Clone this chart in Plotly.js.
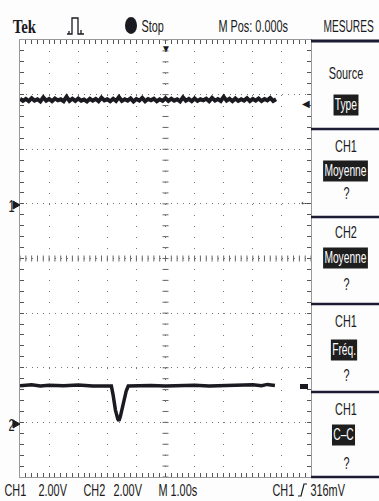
<!DOCTYPE html>
<html>
<head>
<meta charset="utf-8">
<script src="https://cdn.plot.ly/plotly-3.0.1.min.js"></script>
<style>
html,body{margin:0;padding:0;background:#fdfdfd;}
#chart{width:379px;height:501px;}
</style>
</head>
<body>
<div id="chart"></div>
<script>
// ---- Data ----
// time in seconds (M 1.00s/div, 10 divisions, trigger at centre)
const ch1Time = [-5.0,-4.9,-4.8,-4.7,-4.6,-4.5,-4.4,-4.3,-4.2,-4.1,
                 -4.0,-3.9,-3.8,-3.7,-3.6,-3.5,-3.4,-3.3,-3.2,-3.1,
                 -3.0,-2.9,-2.8,-2.7,-2.6,-2.5,-2.4,-2.3,-2.2,-2.1,
                 -2.0,-1.9,-1.8,-1.7,-1.6,-1.5,-1.4,-1.3,-1.2,-1.1,
                 -1.0,-0.9,-0.8,-0.7,-0.6,-0.5,-0.4,-0.3,-0.2,-0.1,
                 0.0,0.1,0.2,0.3,0.4,0.5,0.6,0.7,0.8,0.9,
                 1.0,1.1,1.2,1.3,1.4,1.5,1.6,1.7,1.8,1.9,
                 2.0,2.1,2.2,2.3,2.4,2.5,2.6,2.7,2.8,2.9,
                 3.0,3.1,3.2,3.3,3.4,3.5,3.6,3.7,3.8];
// CH1 volts (2.00 V/div), noisy level about 3.8 V
const ch1Volts = [3.85,3.77,3.84,3.76,3.87,3.78,3.83,3.75,3.90,3.78,
                  3.84,3.76,3.86,3.79,3.83,3.76,3.92,3.77,3.85,3.77,
                  3.86,3.78,3.82,3.75,3.85,3.78,3.84,3.76,3.89,3.79,
                  3.83,3.76,3.85,3.77,3.91,3.77,3.83,3.78,3.86,3.75,
                  3.84,3.78,3.88,3.76,3.84,3.79,3.85,3.76,3.83,3.77,
                  3.87,3.77,3.85,3.78,3.83,3.75,3.90,3.78,3.84,3.76,
                  3.86,3.77,3.83,3.79,3.85,3.76,3.88,3.78,3.84,3.77,
                  3.92,3.78,3.85,3.76,3.86,3.77,3.83,3.78,3.87,3.76,
                  3.84,3.78,3.86,3.77,3.84,3.79,3.88,3.77,3.83];
// CH2 time and volts (2.00 V/div): level about 1.33 V with a dip near -1.6 s
const ch2Time = [-5.0,-4.6,-4.3,-4.0,-3.5,-3.0,-2.5,-2.0,-1.86,-1.80,-1.72,-1.64,-1.60,
                 -1.55,-1.45,-1.35,-1.28,-1.0,-0.5,0.0,0.5,1.0,1.5,2.0,2.5,3.0,3.3,3.5,3.76];
const ch2Volts = [1.34,1.38,1.33,1.36,1.34,1.37,1.33,1.34,1.33,1.00,0.45,0.12,0.06,
                  0.22,0.70,1.15,1.33,1.34,1.35,1.33,1.34,1.36,1.33,1.35,1.37,1.38,1.34,1.39,1.35];

const ch1Ground = 1;   // divisions above centre
const ch2Ground = -3;  // divisions below centre
const voltsPerDiv = 2.0;

// ---- geometry helpers (pixel -> paper) ----
const L = 20, R = 311, T = 40, B = 477;
const px = x => (x - L) / (R - L);
const py = y => (B - y) / (B - T);

const font = "'Liberation Sans',Arial,sans-serif";
const ink = '#1a1a20';

const traces = [
  {x: ch1Time, y: ch1Volts.map(v => ch1Ground + v / voltsPerDiv), mode: 'lines',
   line: {color: ink, width: 4}, hoverinfo: 'skip'},
  {x: ch2Time, y: ch2Volts.map(v => ch2Ground + v / voltsPerDiv), mode: 'lines',
   line: {color: ink, width: 3.5}, hoverinfo: 'skip'}
];

const annotations = [];
const annScale = [];
function ann(text, x, y, o) {
  o = o || {};
  annotations.push(Object.assign({
    text: text, xref: 'paper', yref: 'paper', x: px(x), y: py(y),
    xanchor: o.xa || 'left', yanchor: 'middle', showarrow: false,
    font: {family: o.family || font, size: o.size || 17, color: o.color || ink}
  }, o.extra || {}));
  annScale.push(o.sx === undefined ? 0.64 : o.sx);
}
function inv(text, x, y) {
  ann(text, x, y, {xa: 'center', color: '#ffffff', size: 16,
    extra: {bgcolor: '#1e1e1e', borderpad: 1.5}});
}

// header
ann('<b>Tek</b>', 11, 26, {family: "'Liberation Serif','DejaVu Serif',serif", size: 19, sx: 0.78});
ann('Stop', 140, 26);
ann('M Pos: 0.000s', 217, 26);
ann('MESURES', 322, 26, {sx: 0.6});
// footer
ann('CH1', 3, 490);
ann('2.00V', 37, 490);
ann('CH2', 82, 490);
ann('2.00V', 112, 490);
ann('M 1.00s', 157, 490);
ann('CH1', 271, 490);
ann('316mV', 309, 490);
// menu
ann('Source', 346, 73, {xa: 'center'});
inv('Type', 346, 105);
ann('CH1', 346, 146, {xa: 'center'});
inv('Moyenne', 345, 171);
ann('?', 346, 193, {xa: 'center'});
ann('CH2', 346, 232, {xa: 'center'});
inv('Moyenne', 345, 258);
ann('?', 346, 284, {xa: 'center'});
ann('CH1', 346, 322, {xa: 'center'});
inv('Fréq.', 344, 350);
ann('?', 346, 375, {xa: 'center'});
ann('CH1', 346, 409, {xa: 'center'});
inv('C–C', 343, 435);
ann('?', 346, 463, {xa: 'center'});
// channel ground markers and level markers
ann('1', 7, 206, {size: 17});
ann('2', 7, 425, {size: 17});
ann('▼', 166, 48, {xa: 'center', size: 10, sx: 1});
ann('◀', 306, 103, {xa: 'center', size: 10, sx: 1});
ann('←', 305, 201, {xa: 'center', size: 12, sx: 1});

const shapes = [];
function seg(x0, y0, x1, y1, w, c) {
  shapes.push({type: 'line', xref: 'paper', yref: 'paper',
    x0: px(x0), y0: py(y0), x1: px(x1), y1: py(y1),
    line: {color: c || '#1b1b33', width: w || 2.5}});
}
// menu separators
seg(311, 41, 379, 41, 3);
seg(311, 129, 379, 129, 2.5);
seg(311, 217, 379, 217, 2.5);
seg(311, 304, 379, 304, 2.5);
seg(311, 392, 379, 392, 2.5);
seg(311, 477, 379, 477, 2.5);
// Stop dot
shapes.push({type: 'circle', xref: 'paper', yref: 'paper',
  x0: px(125), x1: px(137), y0: py(34), y1: py(17),
  fillcolor: ink, line: {width: 0}});
// acquisition icon
shapes.push({type: 'path', xref: 'paper', yref: 'paper',
  path: 'M' + px(67) + ',' + py(34) + ' H' + px(72) + ' V' + py(18) + ' H' + px(78) + ' V' + py(34) + ' H' + px(84) +
        ' M' + px(81) + ',' + py(34) + ' V' + py(30) + ' M' + px(69) + ',' + py(34) + ' V' + py(31),
  line: {color: ink, width: 1.3}});
// trigger slope symbol in footer
shapes.push({type: 'path', xref: 'paper', yref: 'paper',
  path: 'M' + px(298) + ',' + py(496) + ' H' + px(301) + ' L' + px(304) + ',' + py(484) + ' H' + px(307),
  line: {color: ink, width: 1.2}});
// ground arrows
[205, 424].forEach(yy => {
  shapes.push({type: 'path', xref: 'paper', yref: 'paper',
    path: 'M' + px(13) + ',' + py(yy - 4) + ' L' + px(20) + ',' + py(yy) + ' L' + px(13) + ',' + py(yy + 4) + ' Z',
    fillcolor: ink, line: {color: ink, width: 1}});
});
// CH2 level marker on right edge
shapes.push({type: 'rect', xref: 'paper', yref: 'paper',
  x0: px(300), x1: px(308), y0: py(389), y1: py(384), fillcolor: ink, line: {width: 0}});
// centre crosshair ticks
for (let i = -25; i <= 25; i++) {
  const t = i / 5;
  shapes.push({type: 'line', xref: 'x', yref: 'paper', x0: t, x1: t,
    y0: 0.5 - 3 / 437, y1: 0.5 + 3 / 437, line: {color: '#666', width: 1}});
}
for (let i = -20; i <= 20; i++) {
  const v = i / 5;
  shapes.push({type: 'line', xref: 'paper', yref: 'y', y0: v, y1: v,
    x0: 0.5 - 3 / 291, x1: 0.5 + 3 / 291, line: {color: '#666', width: 1}});
}

const layout = {
  width: 379, height: 501,
  margin: {l: 20, r: 68, t: 40, b: 24, pad: 0},
  paper_bgcolor: '#fdfdfd', plot_bgcolor: '#ffffff',
  showlegend: false,
  xaxis: {range: [-5, 5], dtick: 1, tick0: 0, showticklabels: false,
    showgrid: true, gridcolor: '#777', gridwidth: 1, griddash: '1px,9.925px',
    zeroline: false, showline: true, linecolor: '#999', linewidth: 1, mirror: 'ticks',
    ticks: 'inside', ticklen: 4, tickcolor: '#555', tickwidth: 1,
    minor: {dtick: 0.2, ticks: 'inside', ticklen: 4, tickcolor: '#555', tickwidth: 1, showgrid: false},
    fixedrange: true},
  yaxis: {range: [-4, 4], dtick: 1, tick0: 0, showticklabels: false,
    showgrid: true, gridcolor: '#777', gridwidth: 1, griddash: '1px,4.82px',
    zeroline: false, showline: true, linecolor: '#999', linewidth: 1, mirror: 'ticks',
    ticks: 'inside', ticklen: 4, tickcolor: '#555', tickwidth: 1,
    minor: {dtick: 0.2, ticks: 'inside', ticklen: 4, tickcolor: '#555', tickwidth: 1, showgrid: false},
    fixedrange: true},
  annotations: annotations,
  shapes: shapes
};

Plotly.newPlot('chart', traces, layout, {staticPlot: true, displayModeBar: false}).then(gd => {
  // condense the annotation text horizontally, like the scope's narrow font
  gd.querySelectorAll('g.annotation').forEach(g => {
    const idx = +g.getAttribute('data-index');
    const s = annScale[idx];
    if (!s || s === 1) return;
    const tg = g.querySelector('.annotation-text-g');
    if (!tg) return;
    const bb = tg.getBBox();
    const xa = annotations[idx].xanchor;
    const cx = xa === 'center' ? bb.x + bb.width / 2 : (xa === 'right' ? bb.x + bb.width : bb.x);
    tg.setAttribute('transform', 'translate(' + cx + ',0) scale(' + s + ',1) translate(' + (-cx) + ',0)');
  });
});
</script>
</body>
</html>
